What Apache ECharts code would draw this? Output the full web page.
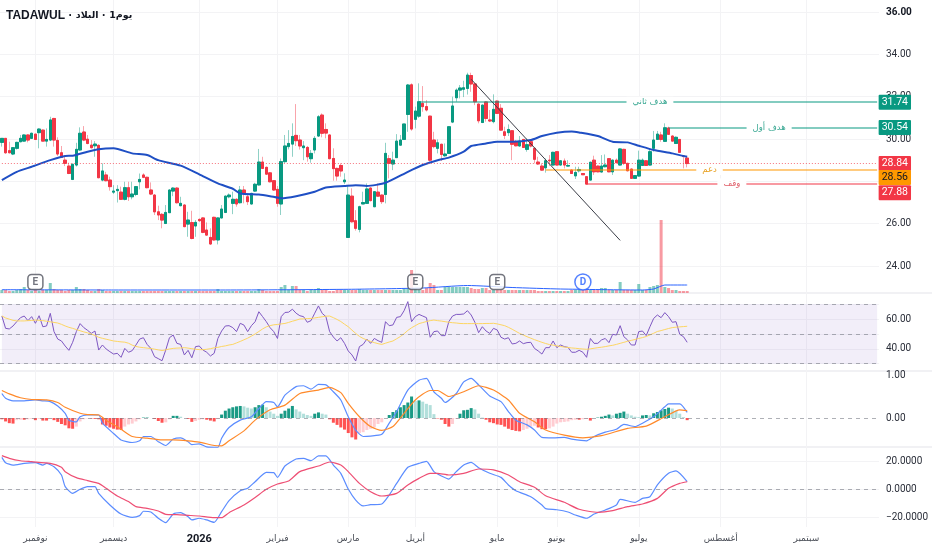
<!DOCTYPE html>
<html><head><meta charset="utf-8">
<style>html,body{margin:0;padding:0;background:#fff}#c{width:932px;height:550px}</style>
<script src="https://cdn.jsdelivr.net/npm/echarts@6/dist/echarts.min.js"></script>
</head><body><div id="c"></div>
<script>
const headerParts = ["TADAWUL","البلاد","1يوم"];
const slotCount = 236;
const monthSlots = [9,30,53,74,93,111,133,149,171,193,216];
const monthNames = ["نوفمبر","ديسمبر","2026","فبراير","مارس","أبريل","مايو","يونيو","يوليو","أغسطس","سبتمبر"];
// open, close, low, high
const ohlc = [
[29.84,30.03,29.64,30.03],[30.03,29.35,29.3,30.03],[29.45,29.35,29.32,29.87],[29.29,29.59,29.24,29.62],[29.56,29.84,29.5,29.87],
[29.87,30.03,29.85,30.19],[29.9,30.19,29.88,30.22],[30.19,29.95,29.84,30.22],[30.03,30.27,30.0,30.3],[30.23,29.98,29.95,30.25],
[30.3,30.47,29.56,30.5],[30.42,29.9,29.88,30.45],[29.9,29.98,29.64,30.5],[29.95,30.9,29.9,31.05],[30.97,29.95,29.64,31.0],
[29.93,29.29,29.2,30.08],[29.35,29.13,29.1,29.67],[29.0,28.85,28.72,29.24],[28.72,28.37,28.34,28.88],[28.09,28.8,28.06,28.85],
[28.77,29.51,28.7,29.82],[29.48,30.27,29.45,30.55],[30.33,29.95,29.9,30.61],[29.99,29.79,29.75,30.19],[29.71,29.59,29.55,29.95],
[29.68,29.76,29.16,29.9],[29.7,28.17,28.15,29.75],[28.06,28.49,28.0,28.85],[28.3,28.03,28.0,28.45],[28.06,27.75,27.56,28.22],
[27.49,27.54,27.4,27.82],[27.56,27.62,27.0,27.82],[27.49,27.15,27.12,27.75],[27.15,27.7,27.1,27.98],[27.7,27.27,27.07,27.98],
[27.27,27.4,27.15,27.98],[27.38,27.75,27.3,27.78],[27.98,28.09,27.62,28.37],[28.3,28.19,28.15,28.38],[28.19,27.7,27.67,28.22],
[27.59,27.4,27.35,27.95],[27.35,26.56,26.41,27.4],[26.56,26.41,26.17,26.85],[26.44,26.17,25.78,26.5],[26.01,26.53,25.98,26.88],
[26.52,27.59,26.5,27.62],[27.54,27.68,27.3,27.72],[27.68,26.99,26.95,27.72],[26.85,26.96,26.82,27.27],[26.88,25.86,25.83,26.92],
[25.98,26.17,25.38,26.56],[26.05,25.3,25.26,26.61],[25.89,26.06,25.38,26.17],[26.2,26.14,26.09,26.25],[26.27,25.59,25.55,26.3],
[25.7,25.46,25.43,26.06],[25.35,25.04,25.0,25.78],[26.3,25.23,25.2,26.33],[25.23,26.27,25.02,26.3],[26.27,26.69,26.25,26.88],
[26.53,27.3,26.5,27.33],[27.27,27.35,27.2,27.43],[26.96,27.15,26.45,27.51],[27.15,26.93,26.8,27.2],[26.99,27.59,26.95,27.78],
[27.59,27.43,26.96,27.78],[27.27,27.04,26.88,27.43],[26.93,27.43,26.9,27.46],[27.54,27.86,27.5,27.93],[27.83,28.91,27.8,29.53],
[28.91,28.61,28.58,29.16],[28.66,28.34,28.3,28.7],[28.4,27.98,27.95,28.43],[28.03,27.59,27.55,28.06],[27.62,26.96,26.8,27.78],
[26.93,28.93,26.41,29.08],[28.93,29.67,28.85,30.19],[29.64,29.79,29.51,30.42],[29.76,30.12,29.16,30.74],[30.17,29.92,29.67,31.65],
[29.95,29.67,29.5,30.19],[29.59,29.67,29.0,29.9],[29.6,29.16,28.93,29.67],[29.07,29.32,28.88,29.48],[29.48,30.03,29.32,30.14],
[30.14,31.05,30.1,31.13],[31.13,30.27,30.08,31.21],[30.45,30.28,30.03,30.74],[30.19,29.07,29.04,30.22],[29.08,28.6,28.03,29.56],
[28.61,28.25,28.03,28.65],[28.75,28.49,28.22,28.85],[27.98,28.06,27.87,28.38],[25.35,27.35,25.33,27.8],[27.3,26.09,26.05,27.67],
[26.14,25.78,25.67,26.64],[25.73,26.8,25.59,26.85],[26.93,27.0,26.93,27.51],[26.96,27.64,26.93,27.9],[27.68,27.09,27.05,27.72],
[26.8,27.51,26.78,27.54],[27.49,27.3,27.27,27.9],[27.35,27.04,26.93,27.38],[27.38,29.32,26.96,29.82],[29.07,28.85,28.14,29.24],
[28.82,29.0,28.53,29.4],[29.12,29.9,29.1,30.23],[29.71,29.95,29.68,30.19],[29.98,30.71,29.95,30.71],[31.16,32.55,30.34,32.6],
[32.56,30.47,30.39,32.63],[30.93,31.32,30.5,31.53],[31.08,31.76,31.0,32.63],[31.68,31.53,31.29,32.5],[31.53,31.37,31.3,31.84],
[31.08,29.0,28.93,31.1],[29.95,29.64,29.56,30.34],[29.56,29.82,29.32,29.98],[29.75,29.27,28.96,29.78],[29.21,29.29,29.16,29.79],
[29.32,30.58,29.3,30.6],[30.8,31.56,30.75,32.0],[31.95,32.31,31.76,32.39],[32.31,32.41,31.92,32.55],[32.35,32.42,31.98,32.75],
[32.39,33.02,32.1,33.13],[33.0,32.6,32.23,33.13],[32.6,31.76,31.6,32.63],[31.65,30.86,30.74,31.68],[30.78,31.6,30.75,31.63],
[31.75,30.97,30.82,31.78],[30.9,30.85,30.8,31.37],[30.82,31.4,30.74,32.11],[31.79,31.21,31.18,31.82],[31.45,30.42,30.4,31.65],
[30.34,30.17,30.0,30.58],[30.3,30.45,30.14,30.69],[30.39,29.75,29.0,30.42],[29.86,29.68,29.65,29.95],[29.67,29.9,29.64,30.14],
[29.98,29.6,29.58,30.0],[29.51,29.73,29.4,30.03],[29.87,29.67,29.6,29.95],[29.56,29.04,28.85,29.6],[28.91,28.82,28.78,29.16],
[28.72,28.53,28.5,28.85],[28.64,28.97,28.41,29.08],[29.0,28.97,28.72,29.24],[28.77,29.37,28.75,29.4],[29.4,28.77,28.75,29.43],
[28.77,28.97,28.75,29.0],[28.96,28.77,28.61,29.08],[28.72,28.75,28.7,29.0],[28.53,28.37,28.35,28.56],[28.26,28.42,28.11,28.69],
[28.5,28.56,28.42,28.69],[28.37,28.31,28.3,28.39],[28.22,27.87,27.85,28.25],[28.06,28.9,28.04,28.93],[29.0,28.45,28.3,29.21],
[28.72,28.45,28.43,28.75],[28.44,28.72,28.42,29.24],[28.69,28.77,28.66,29.27],[29.07,28.45,28.43,29.1],[28.45,29.0,28.3,29.03],
[29.0,28.88,28.86,29.08],[28.77,29.53,28.75,29.56],[29.51,28.85,28.77,29.54],[28.85,28.5,28.47,28.88],[28.58,28.14,28.12,28.6],
[28.14,28.27,28.12,28.3],[28.25,29.0,28.23,29.45],[28.75,29.0,28.73,29.08],[28.97,28.75,28.73,29.0],[28.77,29.4,28.75,29.56],
[29.56,29.95,29.4,30.38],[29.98,30.23,29.96,30.38],[30.19,29.98,29.87,30.34],[29.89,30.53,29.87,30.74],[30.52,30.22,30.2,30.58],
[30.14,29.9,29.88,30.17],[29.79,30.08,29.77,30.12],[29.98,29.37,29.35,30.0],[29.2,29.17,28.61,29.21],[29.1,28.84,28.66,29.2]
];
const priceMa = [[0,28.06],[4,28.45],[8,28.69],[13,29.0],[17,29.2],[19,29.21],[23,29.4],[26,29.52],[30,29.56],[35,29.32],[39,29.24],[42,29.0],[48,28.74],[53,28.33],[58,27.9],[62,27.65],[64,27.43],[69,27.38],[72,27.3],[75,27.2],[79,27.3],[84,27.51],[87,27.71],[92,27.78],[95,27.82],[98,27.78],[103,27.93],[109,28.45],[113,28.77],[117,29.0],[120,29.12],[124,29.4],[126,29.67],[130,29.79],[133,29.87],[137,29.87],[142,29.95],[145,30.14],[149,30.3],[153,30.36],[155,30.31],[160,30.14],[164,29.87],[168,29.84],[171,29.68],[175,29.48],[180,29.32],[184,29.16]];
const volume = [3,3,2,2,3,4,6,3,2,3,2,3,3,10,4,3,3,2,3,3,6,4,4,3,2,2,4,3,2,2,2,2,2,2,2,2,2,2,2,2,2,2,2,2,2,2,2,2,2,2,2,2,2,2,2,2,2,2,4,2,2,2,2,2,2,2,2,2,2,4,3,2,2,2,2,6,8,3,7,7,3,3,2,3,3,5,3,3,2,2,3,3,3,3,3,3,4,3,3,3,3,3,3,3,3,3,3,3,4,5,23,4,3,3,5,10,8,3,3,6,6,6,6,6,6,6,5,4,4,5,5,3,3,3,3,3,3,3,3,3,3,3,3,3,2,2,2,2,2,2,2,2,2,3,3,3,3,3,3,3,3,5,5,3,3,3,11,3,3,3,3,9,3,3,6,7,8,73,6,5,3,3,2,2,2];
const volumeMa = [[0,3.3],[30,3],[60,3],[93,3.7],[113,5],[125,7.5],[137,5.5],[150,4],[172,3],[175,4],[178,8],[184,8]];
const eventSlots = [9,111,133,156];
const eventNames = ["E","E","E","D"];
const rsi = [62.1,53.8,53.4,55.4,58.3,61,62.1,59,61.7,57.2,62.3,54.9,55.4,63.9,51.6,46.6,45.3,41.9,39,44.4,51.6,57,54.3,52.5,50.4,52,39.2,42.6,39.9,38.1,36.5,37,34.3,40.3,37.7,38.8,42.6,46.6,47.5,43,40.3,34.7,33.4,32,39.2,47.5,49.3,43.7,43,35.9,39,34,41.5,41.9,39.2,37.7,35.2,37,47,52,55.4,55.6,54.3,51.6,57.2,56,51.6,55.6,58.3,65,61.7,58.3,54.3,51.6,47,61.7,64.5,64.7,66.7,64,62.3,61.7,57.9,59,64,68.9,63.9,61.7,51.6,48,45.3,47.5,43.7,38.6,35.9,31.8,41.5,43,46.6,43.7,47,45.5,44.4,58.3,55.6,56.1,61.2,61.7,65.7,71.8,58.3,61.7,63.2,62.1,61,47.8,51.6,52,48.9,48.9,58.3,62.1,63.2,63.2,63.5,65.7,62.8,57.9,50.9,54.9,52,50.4,53.8,52.7,47.8,46.6,47.5,43.3,43.7,45.3,43.5,44.2,44.4,40.3,38.6,36.5,40.8,40.8,45.3,40.8,42.6,41.5,41,37.7,37.7,39,37.7,34.3,47,43.7,43.7,46,47,44.2,49.8,49.3,55.6,48.2,46,42.6,42.6,51.6,52,48.9,54.9,60.5,62.8,61,64.4,61.7,57.9,58.3,49.8,48.2,44.4];
const rsiMa = [62.2,60.8,60,59.2,58.8,58.8,58.8,59,59.1,59.4,59.2,59,58.6,58.2,57.8,57.4,56.5,55.4,54.5,53.8,53,52.2,51.4,50.8,50,49,47.8,47.1,46.5,45.9,45.3,45,44.7,44.5,43.8,42.5,41.6,41.1,40.8,40.5,40.2,39.8,39.3,38.9,39.3,39.9,40.3,40.5,40.6,40.8,40.5,40.1,39.7,39.5,39.4,39.7,40.1,40.7,41,41.6,42,42.6,43,44,45,46.1,47.2,48.6,50,51.7,53.4,54.8,55.6,56.2,56.4,56.8,57.1,57.8,58.6,59.3,60.1,60.2,60.4,60.5,60.8,61.2,61.6,62,62.1,61,59.8,58.4,56.6,54.9,52.6,50.4,48.4,47,46,45,44.2,43.5,43,43.8,44.6,45.3,46.8,48.3,50.2,52.4,54.2,55.6,57,57.7,58.4,59,59.4,59,58.7,58.3,57.9,57.6,57.4,57.1,57,57,57,57,57,57,57.1,57.1,57.2,56.8,56.2,55.6,54.5,53.2,51.8,50.4,49.3,48.2,47.2,46.2,45.3,44.4,43.6,42.9,42.5,42,41.6,41.2,40.9,40.6,40.4,40.1,39.9,39.7,40,40.4,40.8,41.1,41.5,42,42.4,43,43.7,44.4,45.1,45.7,46.3,47,47.6,48.3,49.4,50.5,51.7,52.3,53,53.7,54.3,54.6,54.8,55,55.2];
const macdLine = [[0,.57],[1,.46],[3,.40],[6,.40],[9,.42],[11,.40],[13,.38],[15,.28],[17,.11],[18,-.05],[20,-.09],[21,.03],[23,.07],[26,.07],[27,-.12],[30,-.36],[32,-.51],[35,-.57],[37,-.53],[38,-.43],[40,-.43],[42,-.55],[44,-.64],[46,-.49],[48,-.46],[50,-.55],[51,-.62],[53,-.60],[55,-.67],[58,-.68],[59,-.47],[61,-.22],[64,-.05],[67,.03],[69,.22],[71,.38],[73,.36],[74,.26],[76,.53],[79,.73],[81,.75],[83,.67],[85,.78],[87,.77],[89,.61],[91,.42],[93,.03],[95,-.28],[97,-.43],[99,-.42],[102,-.38],[104,-.12],[106,.15],[109,.65],[112,.88],[114,.92],[116,.61],[118,.46],[119,.36],[122,.57],[124,.84],[126,.92],[128,.77],[131,.51],[134,.38],[136,.15],[138,-.05],[141,-.16],[143,-.28],[145,-.45],[148,-.46],[151,-.45],[153,-.49],[157,-.53],[159,-.43],[162,-.33],[165,-.26],[167,-.15],[170,-.20],[172,-.12],[175,.03],[178,.26],[179,.33],[182,.33],[184,.13]];
const macdSignal = [[0,.64],[2,.56],[5,.47],[8,.43],[12,.42],[15,.36],[17,.25],[21,.11],[23,.08],[26,.07],[28,-.05],[32,-.26],[35,-.43],[39,-.47],[43,-.51],[46,-.51],[50,-.53],[53,-.56],[57,-.64],[59,-.65],[61,-.53],[65,-.30],[68,-.05],[72,.19],[76,.30],[80,.57],[85,.65],[88,.71],[91,.59],[93,.34],[96,.03],[99,-.20],[102,-.29],[105,-.20],[108,.11],[111,.42],[115,.64],[117,.64],[120,.50],[124,.61],[128,.75],[132,.65],[136,.42],[139,.11],[143,-.09],[146,-.28],[151,-.40],[156,-.46],[161,-.41],[168,-.24],[173,-.19],[178,.03],[182,.19],[184,.17]];
const macdHist = [-.03,-.08,-.12,-.13,-.05,-.04,-.04,-.03,-.02,-.05,-.02,-.06,-.06,-.01,-.05,-.09,-.14,-.17,-.24,-.25,-.2,-.08,-.03,-.01,-.01,-.02,-.03,-.15,-.18,-.22,-.25,-.27,-.28,-.2,-.15,-.13,-.08,-.03,.01,.01,0,-.02,-.07,-.11,-.1,-.03,.05,.05,.03,0,-.02,-.09,-.07,-.04,-.03,-.04,-.06,-.08,-.02,.08,.17,.22,.25,.27,.28,.27,.24,.22,.25,.3,.31,.25,.15,.1,.05,.1,.17,.22,.28,.2,.15,.1,.07,.05,.1,.13,.1,.08,-.03,-.11,-.16,-.22,-.27,-.35,-.45,-.5,-.35,-.33,-.28,-.25,-.22,-.14,-.1,0,.07,.14,.18,.25,.3,.36,.5,.4,.41,.38,.33,.3,.09,-.01,-.04,-.14,-.2,-.14,-.02,.1,.18,.19,.23,.2,.1,.01,-.04,-.1,-.12,-.15,-.16,-.2,-.25,-.28,-.3,-.31,-.28,-.25,-.2,-.18,-.22,-.26,-.26,-.24,-.2,-.13,-.1,-.09,-.08,-.05,-.04,-.04,-.03,-.02,-.06,0,.01,.03,.05,.08,.06,.1,.12,.15,.1,.06,.03,.02,.06,.07,.06,.11,.14,.18,.21,.24,.22,.17,.1,.02,-.05];
const oscFast = [[0,22.6],[1,18.8],[3,17.1],[6,18.3],[9,18.8],[11,17.1],[12,18.3],[14,15.9],[16,10],[17,1.7],[19,-3.1],[21,-.2],[23,1.7],[25,1.7],[26,-3.1],[29,-11.4],[32,-17.9],[35,-20.2],[37,-19],[38,-15.9],[40,-16.4],[42,-20.9],[44,-24],[46,-17.9],[48,-16.9],[50,-19.8],[51,-22.1],[53,-20.9],[55,-22.1],[57,-23.8],[59,-16.2],[61,-8.3],[64,-1.2],[66,.5],[68,5.2],[71,11.9],[73,11.7],[74,8.3],[76,16.4],[79,21.4],[81,21.9],[83,20.2],[85,23.6],[87,23.6],[89,17.1],[91,11.2],[93,0],[95,-7.9],[97,-12.1],[99,-11.2],[102,-10.7],[104,-4.3],[106,4],[109,15.5],[112,18.3],[114,19.8],[116,12.4],[118,9.3],[120,7.1],[122,12.4],[124,17.1],[126,19],[128,15.2],[131,11.2],[134,8.3],[136,2.9],[138,-1.2],[142,-5.5],[145,-11.4],[146,-14],[149,-14.8],[152,-16.4],[154,-18.6],[157,-20.9],[159,-17.9],[162,-15],[165,-11.4],[166,-7.4],[170,-9.5],[172,-6.7],[174,-5.5],[176,2.9],[179,11.2],[181,12.9],[184,5.2]];
const oscSlow = [[0,23.8],[2,21.9],[5,20.2],[8,19.5],[13,18.3],[16,15.5],[17,12.4],[20,8.1],[23,6],[26,4],[28,.5],[31,-5],[34,-9],[36,-12.6],[39,-13.8],[42,-15.7],[44,-18.1],[47,-18.3],[50,-18.8],[53,-19.3],[57,-20.5],[59,-20.5],[61,-16.9],[65,-11.4],[68,-6],[71,-.2],[74,3.6],[77,5.7],[80,12.4],[85,16.4],[88,19.3],[91,17.1],[93,12.4],[96,4],[99,-1.9],[102,-5],[106,-3.1],[109,2.9],[112,7.6],[115,11.2],[117,11.2],[120,10],[124,11.2],[128,14.3],[132,13.6],[136,10],[139,5.2],[143,1.2],[146,-4.8],[151,-9.5],[155,-14.5],[160,-16.7],[164,-15.5],[168,-12.6],[172,-10.7],[176,-6.7],[179,.5],[182,4],[184,5.2]];
const trendFrom = [126,32.82];
const trendTo = [166,25.21];
const levelValues = [31.74,30.54,28.56,27.88];
const levelStarts = [112,179,146,157];
const levelNames = ["هدف ثاني","هدف أول","دعم","وقف"];
const levelTextSlots = [174,206,190,196];
const lastClose = 28.84;
const priceTicks = {min:24,max:36,step:2};

const categories = Array.from({length:slotCount},(_,i)=>{const k=monthSlots.indexOf(i);return k>=0?monthNames[k]:'';});
const UP='#089981',DOWN='#f23645',GRID='#f3f3f5',TXT='#131722';
const fontNum='Roboto, sans-serif';
const numSize=10;
const hist=macdHist.map((v,i)=>{const p=i?macdHist[i-1]:0;
  return {value:v,itemStyle:{color:v>=0?(v>=p?'#1a9a85':'#b2dfdb'):(v<=p?'#ff5252':'#ffcdd2')}};});
const volData=volume.map((v,i)=>({value:v,itemStyle:{color:ohlc[i][1]>=ohlc[i][0]?'rgba(8,153,129,.5)':'rgba(242,54,69,.5)'}}));
const bodies=ohlc.map(([o,c])=>[o,c,Math.min(o,c),Math.max(o,c)]);
const levelColors=['rgba(8,153,129,.5)','rgba(8,153,129,.5)','rgba(255,152,0,.5)','rgba(242,54,69,.5)'];
const tagColors=[UP,UP,'#ff9800',DOWN];
const tagText=['#fff','#fff',TXT,'#fff'];
const tagNudge=[0,0,8,9];
const tag=(bg,col,dy)=>({show:true,position:'end',distance:1.5,backgroundColor:bg,color:col,fontFamily:fontNum,fontSize:10.5,padding:[2,3,2,3],borderRadius:1,offset:[0,dy||0],
  formatter:p=>p.value.toFixed?p.value.toFixed(2):p.value});
const levelLines=levelValues.map((v,i)=>[
  {coord:[levelStarts[i],v],value:v,lineStyle:{color:levelColors[i],width:2,type:'solid'},label:tag(tagColors[i],tagText[i],tagNudge[i])},
  {coord:[slotCount-1,v]}]);
const grids=[
 {left:0,width:879,top:0,height:527},
 {left:0,width:879,top:0,height:293},
 {left:0,width:879,top:12,height:254},
 {left:0,width:879,top:304.3,height:59.4},
 {left:0,width:879,top:375,height:86},
 {left:0,width:879,top:461,height:56}];
const xBase={type:'category',data:categories,boundaryGap:true,axisLine:{show:false},axisTick:{show:false}};
const xAxes=grids.map((g,i)=>i===0?Object.assign({},xBase,{gridIndex:0,
   splitLine:{show:true,alignWithLabel:true,interval:(n,v)=>v!=='',lineStyle:{color:GRID,width:1}},
   axisLabel:{show:true,interval:(n,v)=>v!=='',hideOverlap:false,margin:7,color:'#4a4e57',fontSize:9,fontFamily:'DejaVu Sans',
     formatter:v=>v==='2026'?'{y|2026}':v,rich:{y:{fontFamily:fontNum,fontSize:11,fontWeight:'bold',color:TXT}}}
   }):Object.assign({},xBase,{gridIndex:i,show:false}));
const yBase={position:'right',axisLine:{show:false},axisTick:{show:false},
  axisLabel:{color:'#2a2e39',fontFamily:fontNum,fontSize:numSize,margin:7,showMinLabel:true,showMaxLabel:true},
  splitLine:{show:true,lineStyle:{color:GRID,width:1}}};
const yAxes=[
 {gridIndex:0,type:'value',show:false,min:0,max:1},
 {gridIndex:1,type:'value',show:false,min:0,max:293},
 Object.assign({},yBase,{gridIndex:2,type:'value',min:priceTicks.min,max:priceTicks.max,interval:priceTicks.step,
   axisLabel:Object.assign({},yBase.axisLabel,{formatter:v=>v===36?'{b|36.00}':v.toFixed(2),rich:{b:{fontFamily:fontNum,fontSize:numSize,fontWeight:'bold',color:TXT}}})}),
 Object.assign({},yBase,{gridIndex:3,type:'value',min:30,max:70,interval:10,
   axisLabel:Object.assign({},yBase.axisLabel,{formatter:v=>(v===40||v===60)?v.toFixed(2):''})}),
 Object.assign({},yBase,{gridIndex:4,type:'value',min:-1,max:1,interval:1,splitLine:{show:false},
   axisLabel:Object.assign({},yBase.axisLabel,{formatter:v=>v<0?'':v.toFixed(2)})}),
 Object.assign({},yBase,{gridIndex:5,type:'value',min:-20,max:20,interval:20,
   axisLabel:Object.assign({},yBase.axisLabel,{formatter:v=>v.toFixed(4).replace('-','\u2212')})})
];
const dashLine=vals=>({silent:true,symbol:'none',label:{show:false},lineStyle:{color:'rgba(120,123,134,.6)',type:[4,4],width:1},data:vals.map(v=>({yAxis:v}))});
const thinLine=(name,xi,data,color,width,extra)=>Object.assign({name,type:'line',xAxisIndex:xi,yAxisIndex:xi,data,symbol:'none',clip:false,smooth:data[0].length?0.2:false,
   lineStyle:{color,width},animation:false},extra||{});
const series=[
 {type:'bar',name:'volume',xAxisIndex:1,yAxisIndex:1,data:volData,barWidth:3,animation:false},
 thinLine('volumeMa',1,volumeMa,'#2962ff',1,{opacity:.8}),
 {type:'scatter',name:'events',xAxisIndex:1,yAxisIndex:1,z:6,animation:false,
   data:eventSlots.map((s,i)=>{const d=eventNames[i]==='D';return {value:[s,11],name:eventNames[i],symbol:d?'circle':'roundRect',symbolSize:d?16:15,
     itemStyle:{color:'#fff',borderColor:d?'#2962ff':'#50535e',borderWidth:1.5},
     label:{show:true,position:'inside',formatter:eventNames[i],color:d?'#2962ff':'#50535e',fontFamily:'Roboto',fontWeight:'bold',fontSize:10}};})},
 {type:'candlestick',name:'priceWicks',xAxisIndex:2,yAxisIndex:2,data:ohlc,barWidth:3,animation:false,z:3,
   itemStyle:{color:'rgba(8,153,129,.45)',color0:'rgba(242,54,69,.45)',borderColor:'rgba(8,153,129,.45)',borderColor0:'rgba(242,54,69,.45)',borderWidth:1},
   markLine:{silent:true,symbol:'none',animation:false,label:{show:false},data:[
     [{coord:[0,lastClose],value:lastClose,lineStyle:{color:'rgba(242,54,69,.7)',width:1,type:[1,2]},label:tag(DOWN,'#fff',0)},{coord:[slotCount-1,lastClose]}],
     ...levelLines,
     [{coord:trendFrom,lineStyle:{color:'#3a3d47',width:1,type:'solid'},label:{show:false}},{coord:trendTo}]
   ]},
   markPoint:{silent:true,symbol:'circle',symbolSize:0,animation:false,
     data:levelValues.map((v,i)=>({coord:[levelTextSlots[i],v],value:levelNames[i],
       label:{show:true,position:'inside',formatter:levelNames[i],backgroundColor:'#fff',padding:[1,6],
       color:i===2?'#e8a020':(i===3?'#e0606a':'#3aa893'),fontFamily:'DejaVu Sans',fontSize:8.5}}))}},
 {type:'candlestick',name:'priceBodies',xAxisIndex:2,yAxisIndex:2,data:bodies,barWidth:3,animation:false,z:3,
   itemStyle:{color:UP,color0:DOWN,borderColor:UP,borderColor0:DOWN,borderWidth:1}},
 thinLine('priceMa',2,priceMa,'#1f4fc4',2,{z:4}),
 thinLine('rsi',3,rsi,'#7e57c2',1,{smooth:false,
   markArea:{silent:true,itemStyle:{color:'rgba(126,87,194,.1)'},data:[[{coord:[0,70]},{coord:[slotCount-1,30]}]]},
   markLine:dashLine([70,50,30])}),
 thinLine('rsiMa',3,rsiMa,'#fdd663',1,{smooth:false}),
 {type:'bar',name:'macdHist',xAxisIndex:4,yAxisIndex:4,data:hist,barWidth:3,animation:false},
 thinLine('macdLine',4,macdLine,'#5b8cff',1.2,{markLine:dashLine([0])}),
 thinLine('macdSignal',4,macdSignal,'#ff8a2b',1.2),
 thinLine('oscFast',5,oscFast,'#5b8cff',1.2,{markLine:dashLine([0])}),
 thinLine('oscSlow',5,oscSlow,'#ee4f74',1.2)
];
const chart=echarts.init(document.getElementById('c'),null,{renderer:'canvas'});
chart.setOption({
 animation:false,backgroundColor:'#fff',
 title:{text:`{a|${headerParts[0]}}{a| · }{b|${headerParts[1]}}{a| · }{b|${headerParts[2]}}`,left:1,top:5,
   textStyle:{rich:{a:{fontFamily:'Liberation Sans',fontSize:12,color:TXT},b:{fontFamily:'DejaVu Sans',fontSize:9.5,color:TXT}}}},
 grid:grids,xAxis:xAxes,yAxis:yAxes,series,
 graphic:[293,371,447].map(y=>({type:'rect',silent:true,z:-1,shape:{x:0,y:y-1,width:932,height:2},style:{fill:'#f1f1f4'}}))
});
</script></body></html>
